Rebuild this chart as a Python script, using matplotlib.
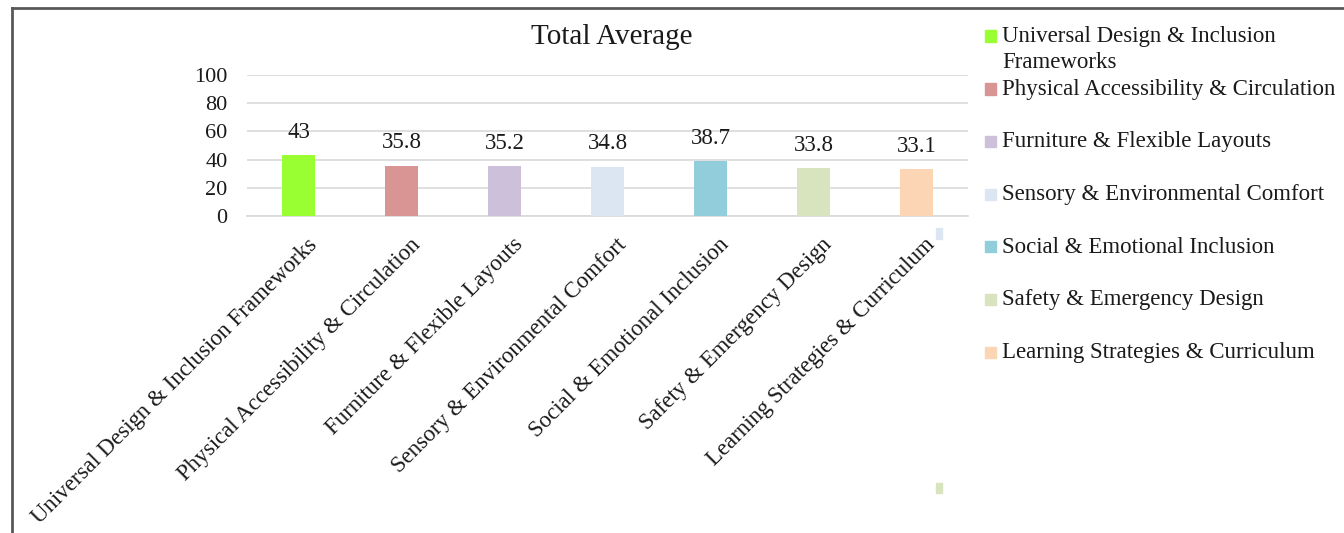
import matplotlib
matplotlib.use('Agg')
import matplotlib.pyplot as plt
import matplotlib.patches as mpatches
import matplotlib.transforms as mtransforms
from matplotlib.lines import Line2D
import numpy as np

# ── Data ──────────────────────────────────────────────────────────────────────
categories = [
    'Universal Design & Inclusion Frameworks',
    'Physical Accessibility & Circulation',
    'Furniture & Flexible Layouts',
    'Sensory & Environmental Comfort',
    'Social & Emotional Inclusion',
    'Safety & Emergency Design',
    'Learning Strategies & Curriculum',
]
legend_labels = [
    'Universal Design & Inclusion\nFrameworks',
    'Physical Accessibility & Circulation',
    'Furniture & Flexible Layouts',
    'Sensory & Environmental Comfort',
    'Social & Emotional Inclusion',
    'Safety & Emergency Design',
    'Learning Strategies & Curriculum',
]
values = [43, 35.8, 35.2, 34.8, 38.7, 33.8, 33.1]
value_labels = ['43', '35.8', '35.2', '34.8', '38.7', '33.8', '33.1']
colors = ['#99FF33', '#D99594', '#CCC0DA', '#DCE6F2', '#92CDDC', '#D7E4BD', '#FCD5B5']
yticks = [0, 20, 40, 60, 80, 100]

# ── Style ─────────────────────────────────────────────────────────────────────
plt.rcParams['font.family'] = ['Liberation Serif', 'DejaVu Serif']
TEXT = '#1A1A1A'
GRID = '#D9D9D9'
FRAME = '#595959'

W, H = 1344, 533
fig = plt.figure(figsize=(W / 100, H / 100), dpi=100)
fig.patch.set_facecolor('white')

ax = fig.add_axes([247 / W, 1 - 216 / H, (968 - 247) / W, (216 - 75) / H])
x = np.arange(len(categories))
ax.bar(x, values, width=0.32, color=colors, zorder=3)

for xi, v, lab in zip(x, values, value_labels):
    ax.annotate(lab, (xi, v), xytext=(0, 9), textcoords='offset points',
                ha='center', va='bottom', fontsize=16.5, color=TEXT)

ax.set_xlim(-0.5, len(categories) - 0.5)
ax.set_ylim(0, 100)
ax.set_yticks(yticks)
ax.yaxis.grid(True, color=GRID, linewidth=1.2, zorder=0)
ax.set_axisbelow(True)
for s in ['top', 'right', 'left']:
    ax.spines[s].set_visible(False)
ax.spines['bottom'].set_color(GRID)
ax.spines['bottom'].set_linewidth(1.2)
ax.tick_params(axis='both', length=0, colors=TEXT)
ax.tick_params(axis='y', pad=14, labelsize=16)
ax.set_xticks(x)
ax.set_xticklabels(categories, rotation=45, ha='right', rotation_mode='anchor',
                   fontsize=16.5, color=TEXT)
ax.tick_params(axis='x', pad=13)
shift = mtransforms.ScaledTranslation(0.08, 0, fig.dpi_scale_trans)
for lbl in ax.get_xticklabels():
    lbl.set_transform(lbl.get_transform() + shift)

fig.text(612 / W, 1 - 37 / H, 'Total Average', ha='center', va='center',
         fontsize=21, color=TEXT)

# ── Legend (manual, to keep entries evenly spaced) ────────────────────────────
leg_y = [36, 89, 141, 194, 247, 299, 352]
for yy, c, lab in zip(leg_y, colors, legend_labels):
    fig.patches.append(mpatches.Rectangle((985 / W, 1 - (yy + 5.5) / H), 11 / W, 11 / H,
                                          transform=fig.transFigure, color=c))
    fig.text(1002 / W, 1 - (yy - 10) / H, lab, ha='left', va='top',
             fontsize=16.5, color=TEXT, linespacing=1.3)

# stray marker fragments visible in the original
fig.patches.append(mpatches.Rectangle((936 / W, 1 - 239 / H), 6 / W, 11 / H,
                                      transform=fig.transFigure, color=colors[3]))
fig.patches.append(mpatches.Rectangle((936 / W, 1 - 493 / H), 6 / W, 10 / H,
                                      transform=fig.transFigure, color=colors[5]))

# outer frame (left and top edges visible)
fig.add_artist(Line2D([12 / W, 12 / W], [0, 1 - 8 / H], transform=fig.transFigure,
                      color=FRAME, linewidth=2))
fig.add_artist(Line2D([12 / W, 1], [1 - 8 / H, 1 - 8 / H], transform=fig.transFigure,
                      color=FRAME, linewidth=2))

fig.savefig('out.png', dpi=100)
